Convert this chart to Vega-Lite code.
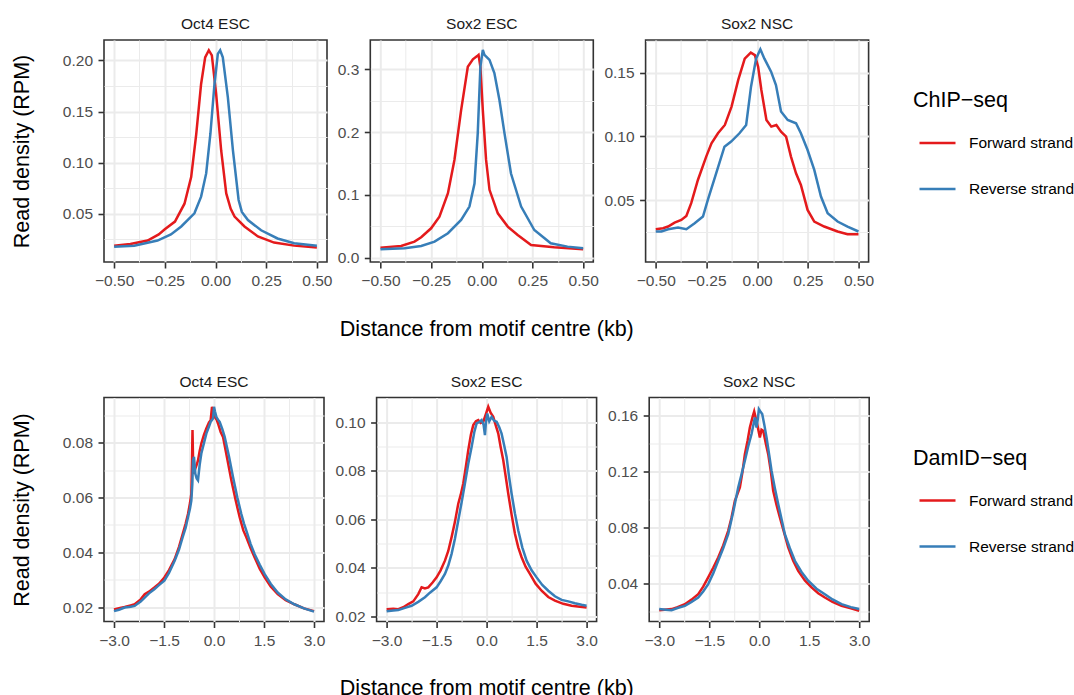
{
"$schema": "https://vega.github.io/schema/vega-lite/v6.json",
"background": "white",
"padding": {"left": 10, "top": 16, "right": 0, "bottom": 0},
"config": {
 "font": "Liberation Sans",
 "view": {"stroke": "#333333", "strokeWidth": 1.6},
 "line": {"strokeWidth": 2.5},
 "axis": {"domain": false, "labelFont": "Liberation Sans", "labelFontSize": 15.5, "labelColor": "#4D4D4D", "tickColor": "#333333", "tickSize": 6, "tickWidth": 1.6, "labelPadding": 5.5, "gridColor": "#EBEBEB", "gridWidth": 2, "titleFont": "Liberation Sans", "titleFontSize": 21.5, "titleFontWeight": "normal", "titleColor": "#000000", "labelFlush": false, "labelOverlap": false},
 "title": {"font": "Liberation Sans", "fontSize": 15.5, "fontWeight": "normal", "color": "#1A1A1A", "offset": 7.4},
 "legend": {"symbolType": "stroke", "symbolSize": 1296, "symbolStrokeWidth": 2.5, "labelFont": "Liberation Sans", "labelFontSize": 15.5, "labelColor": "#000000", "titleFont": "Liberation Sans", "titleFontSize": 21.5, "titleFontWeight": "normal", "titleColor": "#000000", "labelOffset": 12, "rowPadding": 18, "titlePadding": 12, "symbolOffset": 5, "padding": 0}
},
"datasets": {
 "chip_oct4": [
  {"s":"Forward strand","x":-0.5,"y":0.0188},{"s":"Forward strand","x":-0.42,"y":0.0205},{"s":"Forward strand","x":-0.335,"y":0.024},{"s":"Forward strand","x":-0.28,"y":0.03},{"s":"Forward strand","x":-0.25,"y":0.035},{"s":"Forward strand","x":-0.2,"y":0.0425},{"s":"Forward strand","x":-0.153,"y":0.06},{"s":"Forward strand","x":-0.12,"y":0.086},{"s":"Forward strand","x":-0.095,"y":0.128},{"s":"Forward strand","x":-0.071,"y":0.177},{"s":"Forward strand","x":-0.051,"y":0.203},{"s":"Forward strand","x":-0.033,"y":0.21},{"s":"Forward strand","x":-0.018,"y":0.205},{"s":"Forward strand","x":0.003,"y":0.1675},{"s":"Forward strand","x":0.028,"y":0.112},{"s":"Forward strand","x":0.053,"y":0.07},{"s":"Forward strand","x":0.075,"y":0.055},{"s":"Forward strand","x":0.094,"y":0.0474},{"s":"Forward strand","x":0.143,"y":0.0377},{"s":"Forward strand","x":0.209,"y":0.028},{"s":"Forward strand","x":0.289,"y":0.022},{"s":"Forward strand","x":0.388,"y":0.019},{"s":"Forward strand","x":0.5,"y":0.0172},
  {"s":"Reverse strand","x":-0.5,"y":0.018},{"s":"Reverse strand","x":-0.401,"y":0.0188},{"s":"Reverse strand","x":-0.286,"y":0.024},{"s":"Reverse strand","x":-0.22,"y":0.03},{"s":"Reverse strand","x":-0.169,"y":0.0377},{"s":"Reverse strand","x":-0.104,"y":0.0506},{"s":"Reverse strand","x":-0.071,"y":0.0669},{"s":"Reverse strand","x":-0.046,"y":0.0896},{"s":"Reverse strand","x":-0.025,"y":0.1286},{"s":"Reverse strand","x":-0.005,"y":0.177},{"s":"Reverse strand","x":0.0115,"y":0.2065},{"s":"Reverse strand","x":0.023,"y":0.21},{"s":"Reverse strand","x":0.036,"y":0.203},{"s":"Reverse strand","x":0.061,"y":0.164},{"s":"Reverse strand","x":0.086,"y":0.112},{"s":"Reverse strand","x":0.114,"y":0.0636},{"s":"Reverse strand","x":0.13,"y":0.052},{"s":"Reverse strand","x":0.16,"y":0.044},{"s":"Reverse strand","x":0.225,"y":0.034},{"s":"Reverse strand","x":0.306,"y":0.026},{"s":"Reverse strand","x":0.388,"y":0.0214},{"s":"Reverse strand","x":0.5,"y":0.0188}
 ],
 "chip_sox2esc": [
  {"s":"Forward strand","x":-0.5,"y":0.0159},{"s":"Forward strand","x":-0.398,"y":0.0186},{"s":"Forward strand","x":-0.332,"y":0.0255},{"s":"Forward strand","x":-0.299,"y":0.0324},{"s":"Forward strand","x":-0.25,"y":0.0467},{"s":"Forward strand","x":-0.209,"y":0.0653},{"s":"Forward strand","x":-0.167,"y":0.1025},{"s":"Forward strand","x":-0.135,"y":0.1556},{"s":"Forward strand","x":-0.102,"y":0.235},{"s":"Forward strand","x":-0.069,"y":0.304},{"s":"Forward strand","x":-0.044,"y":0.316},{"s":"Forward strand","x":-0.023,"y":0.321},{"s":"Forward strand","x":-0.016,"y":0.323},{"s":"Forward strand","x":-0.007,"y":0.304},{"s":"Forward strand","x":0.005,"y":0.235},{"s":"Forward strand","x":0.021,"y":0.156},{"s":"Forward strand","x":0.038,"y":0.108},{"s":"Forward strand","x":0.079,"y":0.0706},{"s":"Forward strand","x":0.128,"y":0.0494},{"s":"Forward strand","x":0.177,"y":0.0361},{"s":"Forward strand","x":0.243,"y":0.0202},{"s":"Forward strand","x":0.357,"y":0.0165},{"s":"Forward strand","x":0.5,"y":0.0133},
  {"s":"Reverse strand","x":-0.5,"y":0.0133},{"s":"Reverse strand","x":-0.381,"y":0.0149},{"s":"Reverse strand","x":-0.299,"y":0.0186},{"s":"Reverse strand","x":-0.233,"y":0.0255},{"s":"Reverse strand","x":-0.167,"y":0.0388},{"s":"Reverse strand","x":-0.102,"y":0.06},{"s":"Reverse strand","x":-0.061,"y":0.0813},{"s":"Reverse strand","x":-0.036,"y":0.118},{"s":"Reverse strand","x":-0.02,"y":0.198},{"s":"Reverse strand","x":-0.007,"y":0.304},{"s":"Reverse strand","x":0.005,"y":0.331},{"s":"Reverse strand","x":0.013,"y":0.323},{"s":"Reverse strand","x":0.038,"y":0.315},{"s":"Reverse strand","x":0.062,"y":0.294},{"s":"Reverse strand","x":0.087,"y":0.251},{"s":"Reverse strand","x":0.112,"y":0.198},{"s":"Reverse strand","x":0.144,"y":0.134},{"s":"Reverse strand","x":0.194,"y":0.0813},{"s":"Reverse strand","x":0.259,"y":0.044},{"s":"Reverse strand","x":0.34,"y":0.0228},{"s":"Reverse strand","x":0.423,"y":0.0175},{"s":"Reverse strand","x":0.5,"y":0.0149}
 ],
 "chip_sox2nsc": [
  {"s":"Forward strand","x":-0.5,"y":0.0273},{"s":"Forward strand","x":-0.464,"y":0.0281},{"s":"Forward strand","x":-0.439,"y":0.0294},{"s":"Forward strand","x":-0.407,"y":0.0325},{"s":"Forward strand","x":-0.374,"y":0.0346},{"s":"Forward strand","x":-0.349,"y":0.0377},{"s":"Forward strand","x":-0.325,"y":0.0477},{"s":"Forward strand","x":-0.292,"y":0.0659},{"s":"Forward strand","x":-0.251,"y":0.0842},{"s":"Forward strand","x":-0.225,"y":0.0946},{"s":"Forward strand","x":-0.193,"y":0.1025},{"s":"Forward strand","x":-0.159,"y":0.109},{"s":"Forward strand","x":-0.126,"y":0.1234},{"s":"Forward strand","x":-0.093,"y":0.1443},{"s":"Forward strand","x":-0.061,"y":0.161},{"s":"Forward strand","x":-0.031,"y":0.1657},{"s":"Forward strand","x":-0.011,"y":0.1638},{"s":"Forward strand","x":0.005,"y":0.1547},{"s":"Forward strand","x":0.021,"y":0.1364},{"s":"Forward strand","x":0.046,"y":0.1129},{"s":"Forward strand","x":0.07,"y":0.1077},{"s":"Forward strand","x":0.095,"y":0.109},{"s":"Forward strand","x":0.118,"y":0.1038},{"s":"Forward strand","x":0.143,"y":0.0999},{"s":"Forward strand","x":0.167,"y":0.0842},{"s":"Forward strand","x":0.192,"y":0.0711},{"s":"Forward strand","x":0.216,"y":0.062},{"s":"Forward strand","x":0.249,"y":0.0424},{"s":"Forward strand","x":0.282,"y":0.0333},{"s":"Forward strand","x":0.331,"y":0.0294},{"s":"Forward strand","x":0.397,"y":0.0255},{"s":"Forward strand","x":0.446,"y":0.0234},{"s":"Forward strand","x":0.5,"y":0.0234},
  {"s":"Reverse strand","x":-0.5,"y":0.0255},{"s":"Reverse strand","x":-0.472,"y":0.0255},{"s":"Reverse strand","x":-0.439,"y":0.0273},{"s":"Reverse strand","x":-0.39,"y":0.0286},{"s":"Reverse strand","x":-0.349,"y":0.0273},{"s":"Reverse strand","x":-0.308,"y":0.032},{"s":"Reverse strand","x":-0.267,"y":0.0372},{"s":"Reverse strand","x":-0.243,"y":0.0503},{"s":"Reverse strand","x":-0.202,"y":0.0711},{"s":"Reverse strand","x":-0.161,"y":0.092},{"s":"Reverse strand","x":-0.128,"y":0.096},{"s":"Reverse strand","x":-0.087,"y":0.1025},{"s":"Reverse strand","x":-0.054,"y":0.109},{"s":"Reverse strand","x":-0.03,"y":0.139},{"s":"Reverse strand","x":-0.005,"y":0.161},{"s":"Reverse strand","x":0.016,"y":0.1683},{"s":"Reverse strand","x":0.036,"y":0.161},{"s":"Reverse strand","x":0.069,"y":0.1508},{"s":"Reverse strand","x":0.093,"y":0.1403},{"s":"Reverse strand","x":0.118,"y":0.1195},{"s":"Reverse strand","x":0.151,"y":0.1129},{"s":"Reverse strand","x":0.192,"y":0.1103},{"s":"Reverse strand","x":0.216,"y":0.1025},{"s":"Reverse strand","x":0.249,"y":0.0894},{"s":"Reverse strand","x":0.282,"y":0.0738},{"s":"Reverse strand","x":0.315,"y":0.0529},{"s":"Reverse strand","x":0.348,"y":0.0398},{"s":"Reverse strand","x":0.397,"y":0.0333},{"s":"Reverse strand","x":0.446,"y":0.0294},{"s":"Reverse strand","x":0.5,"y":0.0255}
 ],
 "dam_oct4": [
  {"s":"Forward strand","x":-3,"y":0.0191},{"s":"Forward strand","x":-2.85,"y":0.0196},{"s":"Forward strand","x":-2.68,"y":0.02},{"s":"Forward strand","x":-2.5,"y":0.0206},{"s":"Forward strand","x":-2.38,"y":0.021},{"s":"Forward strand","x":-2.2,"y":0.0228},{"s":"Forward strand","x":-2.08,"y":0.0247},{"s":"Forward strand","x":-1.95,"y":0.0256},{"s":"Forward strand","x":-1.79,"y":0.0271},{"s":"Forward strand","x":-1.65,"y":0.0285},{"s":"Forward strand","x":-1.49,"y":0.0308},{"s":"Forward strand","x":-1.35,"y":0.0335},{"s":"Forward strand","x":-1.18,"y":0.0375},{"s":"Forward strand","x":-1.05,"y":0.042},{"s":"Forward strand","x":-0.94,"y":0.0467},{"s":"Forward strand","x":-0.85,"y":0.0505},{"s":"Forward strand","x":-0.78,"y":0.054},{"s":"Forward strand","x":-0.72,"y":0.058},{"s":"Forward strand","x":-0.68,"y":0.0614},{"s":"Forward strand","x":-0.66,"y":0.0736},{"s":"Forward strand","x":-0.645,"y":0.0847},{"s":"Forward strand","x":-0.63,"y":0.075},{"s":"Forward strand","x":-0.62,"y":0.0687},{"s":"Forward strand","x":-0.58,"y":0.07},{"s":"Forward strand","x":-0.52,"y":0.072},{"s":"Forward strand","x":-0.48,"y":0.0736},{"s":"Forward strand","x":-0.43,"y":0.077},{"s":"Forward strand","x":-0.38,"y":0.0798},{"s":"Forward strand","x":-0.3,"y":0.083},{"s":"Forward strand","x":-0.23,"y":0.0853},{"s":"Forward strand","x":-0.15,"y":0.0875},{"s":"Forward strand","x":-0.1,"y":0.0883},{"s":"Forward strand","x":-0.06,"y":0.0932},{"s":"Forward strand","x":-0.03,"y":0.091},{"s":"Forward strand","x":0.02,"y":0.0895},{"s":"Forward strand","x":0.08,"y":0.0885},{"s":"Forward strand","x":0.12,"y":0.0871},{"s":"Forward strand","x":0.2,"y":0.084},{"s":"Forward strand","x":0.27,"y":0.0822},{"s":"Forward strand","x":0.4,"y":0.074},{"s":"Forward strand","x":0.52,"y":0.0663},{"s":"Forward strand","x":0.65,"y":0.059},{"s":"Forward strand","x":0.77,"y":0.0528},{"s":"Forward strand","x":0.88,"y":0.048},{"s":"Forward strand","x":0.97,"y":0.0455},{"s":"Forward strand","x":1.1,"y":0.0415},{"s":"Forward strand","x":1.22,"y":0.0381},{"s":"Forward strand","x":1.37,"y":0.034},{"s":"Forward strand","x":1.52,"y":0.0308},{"s":"Forward strand","x":1.7,"y":0.0275},{"s":"Forward strand","x":1.91,"y":0.0247},{"s":"Forward strand","x":2.15,"y":0.0225},{"s":"Forward strand","x":2.41,"y":0.021},{"s":"Forward strand","x":2.7,"y":0.0195},{"s":"Forward strand","x":3,"y":0.0185},
  {"s":"Reverse strand","x":-3,"y":0.0185},{"s":"Reverse strand","x":-2.85,"y":0.019},{"s":"Reverse strand","x":-2.68,"y":0.0198},{"s":"Reverse strand","x":-2.5,"y":0.0201},{"s":"Reverse strand","x":-2.38,"y":0.0204},{"s":"Reverse strand","x":-2.2,"y":0.022},{"s":"Reverse strand","x":-2.08,"y":0.0234},{"s":"Reverse strand","x":-1.95,"y":0.025},{"s":"Reverse strand","x":-1.79,"y":0.0265},{"s":"Reverse strand","x":-1.65,"y":0.028},{"s":"Reverse strand","x":-1.49,"y":0.0296},{"s":"Reverse strand","x":-1.35,"y":0.0325},{"s":"Reverse strand","x":-1.18,"y":0.0369},{"s":"Reverse strand","x":-1.05,"y":0.041},{"s":"Reverse strand","x":-0.94,"y":0.0455},{"s":"Reverse strand","x":-0.85,"y":0.049},{"s":"Reverse strand","x":-0.78,"y":0.0528},{"s":"Reverse strand","x":-0.72,"y":0.056},{"s":"Reverse strand","x":-0.68,"y":0.0589},{"s":"Reverse strand","x":-0.65,"y":0.065},{"s":"Reverse strand","x":-0.63,"y":0.0736},{"s":"Reverse strand","x":-0.6,"y":0.0749},{"s":"Reverse strand","x":-0.56,"y":0.0687},{"s":"Reverse strand","x":-0.52,"y":0.067},{"s":"Reverse strand","x":-0.48,"y":0.0663},{"s":"Reverse strand","x":-0.43,"y":0.072},{"s":"Reverse strand","x":-0.38,"y":0.0761},{"s":"Reverse strand","x":-0.3,"y":0.08},{"s":"Reverse strand","x":-0.23,"y":0.0834},{"s":"Reverse strand","x":-0.15,"y":0.086},{"s":"Reverse strand","x":-0.1,"y":0.0877},{"s":"Reverse strand","x":-0.03,"y":0.0889},{"s":"Reverse strand","x":0,"y":0.0932},{"s":"Reverse strand","x":0.03,"y":0.0915},{"s":"Reverse strand","x":0.07,"y":0.0895},{"s":"Reverse strand","x":0.12,"y":0.0885},{"s":"Reverse strand","x":0.17,"y":0.0877},{"s":"Reverse strand","x":0.25,"y":0.085},{"s":"Reverse strand","x":0.32,"y":0.0822},{"s":"Reverse strand","x":0.45,"y":0.075},{"s":"Reverse strand","x":0.57,"y":0.0675},{"s":"Reverse strand","x":0.7,"y":0.06},{"s":"Reverse strand","x":0.82,"y":0.054},{"s":"Reverse strand","x":0.9,"y":0.0505},{"s":"Reverse strand","x":0.97,"y":0.0479},{"s":"Reverse strand","x":1.1,"y":0.043},{"s":"Reverse strand","x":1.22,"y":0.0393},{"s":"Reverse strand","x":1.37,"y":0.0355},{"s":"Reverse strand","x":1.52,"y":0.032},{"s":"Reverse strand","x":1.7,"y":0.0285},{"s":"Reverse strand","x":1.91,"y":0.0253},{"s":"Reverse strand","x":2.15,"y":0.0228},{"s":"Reverse strand","x":2.41,"y":0.021},{"s":"Reverse strand","x":2.7,"y":0.0195},{"s":"Reverse strand","x":3,"y":0.0183}
 ],
 "dam_sox2esc": [
  {"s":"Forward strand","x":-3,"y":0.023},{"s":"Forward strand","x":-2.8,"y":0.0232},{"s":"Forward strand","x":-2.65,"y":0.023},{"s":"Forward strand","x":-2.5,"y":0.0238},{"s":"Forward strand","x":-2.35,"y":0.0251},{"s":"Forward strand","x":-2.2,"y":0.0262},{"s":"Forward strand","x":-2.05,"y":0.0292},{"s":"Forward strand","x":-1.95,"y":0.032},{"s":"Forward strand","x":-1.85,"y":0.0315},{"s":"Forward strand","x":-1.75,"y":0.032},{"s":"Forward strand","x":-1.62,"y":0.034},{"s":"Forward strand","x":-1.5,"y":0.0361},{"s":"Forward strand","x":-1.38,"y":0.039},{"s":"Forward strand","x":-1.25,"y":0.043},{"s":"Forward strand","x":-1.15,"y":0.047},{"s":"Forward strand","x":-1.05,"y":0.0527},{"s":"Forward strand","x":-0.95,"y":0.059},{"s":"Forward strand","x":-0.85,"y":0.0665},{"s":"Forward strand","x":-0.78,"y":0.07},{"s":"Forward strand","x":-0.7,"y":0.0748},{"s":"Forward strand","x":-0.62,"y":0.082},{"s":"Forward strand","x":-0.55,"y":0.0886},{"s":"Forward strand","x":-0.47,"y":0.095},{"s":"Forward strand","x":-0.4,"y":0.0989},{"s":"Forward strand","x":-0.32,"y":0.1005},{"s":"Forward strand","x":-0.25,"y":0.101},{"s":"Forward strand","x":-0.18,"y":0.0998},{"s":"Forward strand","x":-0.1,"y":0.1003},{"s":"Forward strand","x":-0.02,"y":0.1035},{"s":"Forward strand","x":0.05,"y":0.1065},{"s":"Forward strand","x":0.12,"y":0.104},{"s":"Forward strand","x":0.2,"y":0.1023},{"s":"Forward strand","x":0.27,"y":0.099},{"s":"Forward strand","x":0.35,"y":0.0954},{"s":"Forward strand","x":0.42,"y":0.09},{"s":"Forward strand","x":0.5,"y":0.0844},{"s":"Forward strand","x":0.57,"y":0.078},{"s":"Forward strand","x":0.65,"y":0.0706},{"s":"Forward strand","x":0.75,"y":0.062},{"s":"Forward strand","x":0.85,"y":0.0541},{"s":"Forward strand","x":0.95,"y":0.0485},{"s":"Forward strand","x":1.05,"y":0.0444},{"s":"Forward strand","x":1.17,"y":0.0405},{"s":"Forward strand","x":1.3,"y":0.0375},{"s":"Forward strand","x":1.47,"y":0.0335},{"s":"Forward strand","x":1.65,"y":0.0306},{"s":"Forward strand","x":1.85,"y":0.028},{"s":"Forward strand","x":2.05,"y":0.0265},{"s":"Forward strand","x":2.3,"y":0.0252},{"s":"Forward strand","x":2.55,"y":0.0244},{"s":"Forward strand","x":2.8,"y":0.024},{"s":"Forward strand","x":3,"y":0.0237},
  {"s":"Reverse strand","x":-3,"y":0.0221},{"s":"Reverse strand","x":-2.8,"y":0.0224},{"s":"Reverse strand","x":-2.65,"y":0.0226},{"s":"Reverse strand","x":-2.45,"y":0.0235},{"s":"Reverse strand","x":-2.25,"y":0.0244},{"s":"Reverse strand","x":-2.05,"y":0.026},{"s":"Reverse strand","x":-1.85,"y":0.0279},{"s":"Reverse strand","x":-1.7,"y":0.0298},{"s":"Reverse strand","x":-1.5,"y":0.032},{"s":"Reverse strand","x":-1.38,"y":0.0345},{"s":"Reverse strand","x":-1.25,"y":0.0375},{"s":"Reverse strand","x":-1.15,"y":0.041},{"s":"Reverse strand","x":-1.05,"y":0.0458},{"s":"Reverse strand","x":-0.95,"y":0.052},{"s":"Reverse strand","x":-0.85,"y":0.0596},{"s":"Reverse strand","x":-0.75,"y":0.067},{"s":"Reverse strand","x":-0.65,"y":0.0748},{"s":"Reverse strand","x":-0.55,"y":0.083},{"s":"Reverse strand","x":-0.45,"y":0.0899},{"s":"Reverse strand","x":-0.37,"y":0.096},{"s":"Reverse strand","x":-0.3,"y":0.0996},{"s":"Reverse strand","x":-0.22,"y":0.1002},{"s":"Reverse strand","x":-0.15,"y":0.101},{"s":"Reverse strand","x":-0.09,"y":0.099},{"s":"Reverse strand","x":-0.05,"y":0.0948},{"s":"Reverse strand","x":-0.02,"y":0.1},{"s":"Reverse strand","x":0.02,"y":0.1037},{"s":"Reverse strand","x":0.08,"y":0.1005},{"s":"Reverse strand","x":0.15,"y":0.1023},{"s":"Reverse strand","x":0.22,"y":0.1008},{"s":"Reverse strand","x":0.3,"y":0.1003},{"s":"Reverse strand","x":0.38,"y":0.098},{"s":"Reverse strand","x":0.45,"y":0.0954},{"s":"Reverse strand","x":0.52,"y":0.091},{"s":"Reverse strand","x":0.6,"y":0.0858},{"s":"Reverse strand","x":0.67,"y":0.078},{"s":"Reverse strand","x":0.75,"y":0.0706},{"s":"Reverse strand","x":0.85,"y":0.0625},{"s":"Reverse strand","x":0.95,"y":0.0554},{"s":"Reverse strand","x":1.07,"y":0.0485},{"s":"Reverse strand","x":1.2,"y":0.043},{"s":"Reverse strand","x":1.35,"y":0.039},{"s":"Reverse strand","x":1.5,"y":0.0361},{"s":"Reverse strand","x":1.67,"y":0.033},{"s":"Reverse strand","x":1.85,"y":0.0306},{"s":"Reverse strand","x":2.05,"y":0.0283},{"s":"Reverse strand","x":2.25,"y":0.0268},{"s":"Reverse strand","x":2.45,"y":0.0262},{"s":"Reverse strand","x":2.65,"y":0.0254},{"s":"Reverse strand","x":2.85,"y":0.0248},{"s":"Reverse strand","x":3,"y":0.0244}
 ],
 "dam_sox2nsc": [
  {"s":"Forward strand","x":-3,"y":0.0206},{"s":"Forward strand","x":-2.85,"y":0.021},{"s":"Forward strand","x":-2.63,"y":0.0214},{"s":"Forward strand","x":-2.45,"y":0.0228},{"s":"Forward strand","x":-2.23,"y":0.0249},{"s":"Forward strand","x":-2.03,"y":0.0282},{"s":"Forward strand","x":-1.83,"y":0.0321},{"s":"Forward strand","x":-1.68,"y":0.0375},{"s":"Forward strand","x":-1.53,"y":0.0441},{"s":"Forward strand","x":-1.38,"y":0.051},{"s":"Forward strand","x":-1.23,"y":0.0584},{"s":"Forward strand","x":-1.08,"y":0.067},{"s":"Forward strand","x":-0.93,"y":0.0775},{"s":"Forward strand","x":-0.83,"y":0.087},{"s":"Forward strand","x":-0.73,"y":0.099},{"s":"Forward strand","x":-0.65,"y":0.104},{"s":"Forward strand","x":-0.58,"y":0.1086},{"s":"Forward strand","x":-0.5,"y":0.12},{"s":"Forward strand","x":-0.43,"y":0.1325},{"s":"Forward strand","x":-0.35,"y":0.142},{"s":"Forward strand","x":-0.28,"y":0.1516},{"s":"Forward strand","x":-0.2,"y":0.159},{"s":"Forward strand","x":-0.15,"y":0.1631},{"s":"Forward strand","x":-0.1,"y":0.158},{"s":"Forward strand","x":-0.06,"y":0.154},{"s":"Forward strand","x":0.02,"y":0.1445},{"s":"Forward strand","x":0.07,"y":0.15},{"s":"Forward strand","x":0.12,"y":0.1493},{"s":"Forward strand","x":0.2,"y":0.14},{"s":"Forward strand","x":0.27,"y":0.1325},{"s":"Forward strand","x":0.35,"y":0.12},{"s":"Forward strand","x":0.42,"y":0.1062},{"s":"Forward strand","x":0.52,"y":0.096},{"s":"Forward strand","x":0.62,"y":0.0871},{"s":"Forward strand","x":0.75,"y":0.076},{"s":"Forward strand","x":0.87,"y":0.0656},{"s":"Forward strand","x":1.02,"y":0.056},{"s":"Forward strand","x":1.17,"y":0.0488},{"s":"Forward strand","x":1.37,"y":0.042},{"s":"Forward strand","x":1.57,"y":0.0369},{"s":"Forward strand","x":1.77,"y":0.0328},{"s":"Forward strand","x":1.97,"y":0.0297},{"s":"Forward strand","x":2.2,"y":0.0265},{"s":"Forward strand","x":2.47,"y":0.0237},{"s":"Forward strand","x":2.75,"y":0.022},{"s":"Forward strand","x":3,"y":0.0202},
  {"s":"Reverse strand","x":-3,"y":0.0214},{"s":"Reverse strand","x":-2.8,"y":0.021},{"s":"Reverse strand","x":-2.63,"y":0.0206},{"s":"Reverse strand","x":-2.45,"y":0.0222},{"s":"Reverse strand","x":-2.23,"y":0.0237},{"s":"Reverse strand","x":-2.03,"y":0.0265},{"s":"Reverse strand","x":-1.83,"y":0.0297},{"s":"Reverse strand","x":-1.68,"y":0.034},{"s":"Reverse strand","x":-1.53,"y":0.0393},{"s":"Reverse strand","x":-1.38,"y":0.047},{"s":"Reverse strand","x":-1.23,"y":0.056},{"s":"Reverse strand","x":-1.08,"y":0.065},{"s":"Reverse strand","x":-0.93,"y":0.0751},{"s":"Reverse strand","x":-0.78,"y":0.091},{"s":"Reverse strand","x":-0.63,"y":0.1086},{"s":"Reverse strand","x":-0.53,"y":0.118},{"s":"Reverse strand","x":-0.43,"y":0.1277},{"s":"Reverse strand","x":-0.33,"y":0.138},{"s":"Reverse strand","x":-0.23,"y":0.1469},{"s":"Reverse strand","x":-0.13,"y":0.1588},{"s":"Reverse strand","x":-0.08,"y":0.1516},{"s":"Reverse strand","x":-0.04,"y":0.158},{"s":"Reverse strand","x":-0.01,"y":0.1648},{"s":"Reverse strand","x":0.04,"y":0.163},{"s":"Reverse strand","x":0.09,"y":0.1612},{"s":"Reverse strand","x":0.15,"y":0.154},{"s":"Reverse strand","x":0.22,"y":0.1445},{"s":"Reverse strand","x":0.3,"y":0.132},{"s":"Reverse strand","x":0.37,"y":0.1206},{"s":"Reverse strand","x":0.47,"y":0.108},{"s":"Reverse strand","x":0.57,"y":0.0967},{"s":"Reverse strand","x":0.67,"y":0.086},{"s":"Reverse strand","x":0.77,"y":0.0751},{"s":"Reverse strand","x":0.92,"y":0.065},{"s":"Reverse strand","x":1.07,"y":0.056},{"s":"Reverse strand","x":1.27,"y":0.048},{"s":"Reverse strand","x":1.47,"y":0.0417},{"s":"Reverse strand","x":1.72,"y":0.036},{"s":"Reverse strand","x":1.97,"y":0.0321},{"s":"Reverse strand","x":2.2,"y":0.0283},{"s":"Reverse strand","x":2.47,"y":0.0249},{"s":"Reverse strand","x":2.75,"y":0.0228},{"s":"Reverse strand","x":3,"y":0.0214}
 ]
},
"spacing": 32.5,
"resolve": {"scale": {"color": "independent"}, "legend": {"color": "independent"}},
"vconcat": [
 {
  "spacing": 3.3,
  "title": {"text": "Distance from motif centre (kb)", "orient": "bottom", "anchor": "start", "frame": "bounds", "dx": 329, "offset": 29.4, "font": "Liberation Sans", "fontSize": 21.5, "fontWeight": "normal", "color": "#000000"},
  "resolve": {"scale": {"color": "shared"}, "legend": {"color": "shared"}},
  "hconcat": [
   {
    "width": 223, "height": 222, "title": "Oct4 ESC", "data": {"name": "chip_oct4"},
    "resolve": {"axis": {"x": "independent", "y": "independent"}},
    "layer": [
     {"mark": {"type": "line", "strokeOpacity": 0},
      "encoding": {
       "x": {"field": "x", "type": "quantitative", "scale": {"domain": [-0.55, 0.55], "nice": false, "zero": false}, "axis": {"orient": "bottom", "values": [-0.375, -0.125, 0.125, 0.375], "grid": true, "gridWidth": 1, "ticks": false, "labels": false, "title": null}},
       "y": {"field": "y", "type": "quantitative", "scale": {"domain": [0.003, 0.22], "nice": false, "zero": false}, "axis": {"orient": "left", "values": [0.025, 0.075, 0.125, 0.175], "grid": true, "gridWidth": 1, "ticks": false, "labels": false, "title": null}},
       "detail": {"field": "s"}}},
     {"mark": {"type": "line"},
      "encoding": {
       "x": {"field": "x", "type": "quantitative", "axis": {"orient": "bottom", "values": [-0.5, -0.25, 0, 0.25, 0.5], "format": ".2f", "grid": true, "title": null}},
       "y": {"field": "y", "type": "quantitative", "axis": {"orient": "left", "values": [0.05, 0.1, 0.15, 0.2], "format": ".2f", "grid": true, "title": "Read density (RPM)", "titlePadding": 28.7}},
       "color": {"field": "s", "type": "nominal", "scale": {"domain": ["Forward strand", "Reverse strand"], "range": ["#E41A1C", "#377EB8"]}, "legend": {"title": "ChIP−seq", "orient": "none", "legendX": 809, "legendY": 50}}}}
    ]
   },
   {
    "width": 223, "height": 222, "title": "Sox2 ESC", "data": {"name": "chip_sox2esc"},
    "resolve": {"axis": {"x": "independent", "y": "independent"}},
    "layer": [
     {"mark": {"type": "line", "strokeOpacity": 0},
      "encoding": {
       "x": {"field": "x", "type": "quantitative", "scale": {"domain": [-0.55, 0.55], "nice": false, "zero": false}, "axis": {"orient": "bottom", "values": [-0.375, -0.125, 0.125, 0.375], "grid": true, "gridWidth": 1, "ticks": false, "labels": false, "title": null}},
       "y": {"field": "y", "type": "quantitative", "scale": {"domain": [-0.007, 0.3467], "nice": false, "zero": false}, "axis": {"orient": "left", "values": [0.05, 0.15, 0.25], "grid": true, "gridWidth": 1, "ticks": false, "labels": false, "title": null}},
       "detail": {"field": "s"}}},
     {"mark": {"type": "line"},
      "encoding": {
       "x": {"field": "x", "type": "quantitative", "axis": {"orient": "bottom", "values": [-0.5, -0.25, 0, 0.25, 0.5], "format": ".2f", "grid": true, "title": null}},
       "y": {"field": "y", "type": "quantitative", "axis": {"orient": "left", "values": [0, 0.1, 0.2, 0.3], "format": ".1f", "grid": true, "title": null}},
       "color": {"field": "s", "type": "nominal", "scale": {"domain": ["Forward strand", "Reverse strand"], "range": ["#E41A1C", "#377EB8"]}, "legend": {"title": "ChIP−seq", "orient": "none", "legendX": 809, "legendY": 50}}}}
    ]
   },
   {
    "width": 223, "height": 222, "title": "Sox2 NSC", "data": {"name": "chip_sox2nsc"},
    "resolve": {"axis": {"x": "independent", "y": "independent"}},
    "layer": [
     {"mark": {"type": "line", "strokeOpacity": 0},
      "encoding": {
       "x": {"field": "x", "type": "quantitative", "scale": {"domain": [-0.55, 0.55], "nice": false, "zero": false}, "axis": {"orient": "bottom", "values": [-0.375, -0.125, 0.125, 0.375], "grid": true, "gridWidth": 1, "ticks": false, "labels": false, "title": null}},
       "y": {"field": "y", "type": "quantitative", "scale": {"domain": [0.0016, 0.1756], "nice": false, "zero": false}, "axis": {"orient": "left", "values": [0.025, 0.075, 0.125, 0.175], "grid": true, "gridWidth": 1, "ticks": false, "labels": false, "title": null}},
       "detail": {"field": "s"}}},
     {"mark": {"type": "line"},
      "encoding": {
       "x": {"field": "x", "type": "quantitative", "axis": {"orient": "bottom", "values": [-0.5, -0.25, 0, 0.25, 0.5], "format": ".2f", "grid": true, "title": null}},
       "y": {"field": "y", "type": "quantitative", "axis": {"orient": "left", "values": [0.05, 0.1, 0.15], "format": ".2f", "grid": true, "title": null}},
       "color": {"field": "s", "type": "nominal", "scale": {"domain": ["Forward strand", "Reverse strand"], "range": ["#E41A1C", "#377EB8"]}, "legend": {"title": "ChIP−seq", "orient": "none", "legendX": 809, "legendY": 50}}}}
    ]
   }
  ]
 },
 {
  "spacing": 7.6,
  "title": {"text": "Distance from motif centre (kb)", "orient": "bottom", "anchor": "start", "frame": "bounds", "dx": 329, "offset": 29, "font": "Liberation Sans", "fontSize": 21.5, "fontWeight": "normal", "color": "#000000"},
  "resolve": {"scale": {"color": "shared"}, "legend": {"color": "shared"}},
  "hconcat": [
   {
    "width": 220, "height": 224, "title": "Oct4 ESC", "data": {"name": "dam_oct4"},
    "resolve": {"axis": {"x": "independent", "y": "independent"}},
    "layer": [
     {"mark": {"type": "line", "strokeOpacity": 0},
      "encoding": {
       "x": {"field": "x", "type": "quantitative", "scale": {"domain": [-3.3, 3.3], "nice": false, "zero": false}, "axis": {"orient": "bottom", "values": [-2.25, -0.75, 0.75, 2.25], "grid": true, "gridWidth": 1, "ticks": false, "labels": false, "title": null}},
       "y": {"field": "y", "type": "quantitative", "scale": {"domain": [0.0147, 0.0966], "nice": false, "zero": false}, "axis": {"orient": "left", "values": [0.03, 0.05, 0.07, 0.09], "grid": true, "gridWidth": 1, "ticks": false, "labels": false, "title": null}},
       "detail": {"field": "s"}}},
     {"mark": {"type": "line"},
      "encoding": {
       "x": {"field": "x", "type": "quantitative", "axis": {"orient": "bottom", "values": [-3, -1.5, 0, 1.5, 3], "format": ".1f", "grid": true, "title": null}},
       "y": {"field": "y", "type": "quantitative", "axis": {"orient": "left", "values": [0.02, 0.04, 0.06, 0.08], "format": ".2f", "grid": true, "title": "Read density (RPM)", "titlePadding": 28.7}},
       "color": {"field": "s", "type": "nominal", "scale": {"domain": ["Forward strand", "Reverse strand"], "range": ["#E41A1C", "#377EB8"]}, "legend": {"title": "DamID−seq", "orient": "none", "legendX": 809, "legendY": 50}}}}
    ]
   },
   {
    "width": 220, "height": 224, "title": "Sox2 ESC", "data": {"name": "dam_sox2esc"},
    "resolve": {"axis": {"x": "independent", "y": "independent"}},
    "layer": [
     {"mark": {"type": "line", "strokeOpacity": 0},
      "encoding": {
       "x": {"field": "x", "type": "quantitative", "scale": {"domain": [-3.3, 3.3], "nice": false, "zero": false}, "axis": {"orient": "bottom", "values": [-2.25, -0.75, 0.75, 2.25], "grid": true, "gridWidth": 1, "ticks": false, "labels": false, "title": null}},
       "y": {"field": "y", "type": "quantitative", "scale": {"domain": [0.0179, 0.1103], "nice": false, "zero": false}, "axis": {"orient": "left", "values": [0.03, 0.05, 0.07, 0.09], "grid": true, "gridWidth": 1, "ticks": false, "labels": false, "title": null}},
       "detail": {"field": "s"}}},
     {"mark": {"type": "line"},
      "encoding": {
       "x": {"field": "x", "type": "quantitative", "axis": {"orient": "bottom", "values": [-3, -1.5, 0, 1.5, 3], "format": ".1f", "grid": true, "title": null}},
       "y": {"field": "y", "type": "quantitative", "axis": {"orient": "left", "values": [0.02, 0.04, 0.06, 0.08, 0.1], "format": ".2f", "grid": true, "title": null}},
       "color": {"field": "s", "type": "nominal", "scale": {"domain": ["Forward strand", "Reverse strand"], "range": ["#E41A1C", "#377EB8"]}, "legend": {"title": "DamID−seq", "orient": "none", "legendX": 809, "legendY": 50}}}}
    ]
   },
   {
    "width": 220, "height": 224, "title": "Sox2 NSC", "data": {"name": "dam_sox2nsc"},
    "resolve": {"axis": {"x": "independent", "y": "independent"}},
    "layer": [
     {"mark": {"type": "line", "strokeOpacity": 0},
      "encoding": {
       "x": {"field": "x", "type": "quantitative", "scale": {"domain": [-3.3, 3.3], "nice": false, "zero": false}, "axis": {"orient": "bottom", "values": [-2.25, -0.75, 0.75, 2.25], "grid": true, "gridWidth": 1, "ticks": false, "labels": false, "title": null}},
       "y": {"field": "y", "type": "quantitative", "scale": {"domain": [0.0125, 0.1731], "nice": false, "zero": false}, "axis": {"orient": "left", "values": [0.02, 0.06, 0.1, 0.14], "grid": true, "gridWidth": 1, "ticks": false, "labels": false, "title": null}},
       "detail": {"field": "s"}}},
     {"mark": {"type": "line"},
      "encoding": {
       "x": {"field": "x", "type": "quantitative", "axis": {"orient": "bottom", "values": [-3, -1.5, 0, 1.5, 3], "format": ".1f", "grid": true, "title": null}},
       "y": {"field": "y", "type": "quantitative", "axis": {"orient": "left", "values": [0.04, 0.08, 0.12, 0.16], "format": ".2f", "grid": true, "title": null}},
       "color": {"field": "s", "type": "nominal", "scale": {"domain": ["Forward strand", "Reverse strand"], "range": ["#E41A1C", "#377EB8"]}, "legend": {"title": "DamID−seq", "orient": "none", "legendX": 809, "legendY": 50}}}}
    ]
   }
  ]
 }
]
}
